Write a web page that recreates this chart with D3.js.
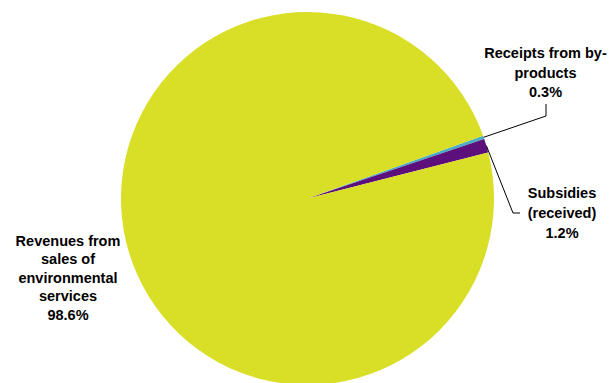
<!DOCTYPE html>
<html><head><meta charset="utf-8">
<script src="https://cdn.jsdelivr.net/npm/d3@7"></script>
<style>body{margin:0;background:#fff}svg{display:block}</style>
</head><body>
<svg id="c" width="611" height="383"></svg>
<script>
const categories = ["Receipts from by-products", "Subsidies (received)", "Revenues from sales of environmental services"];
const values = [0.3, 1.2, 98.6];
const labelLines = [["Receipts from by-", "products", "0.3%"], ["Subsidies", "(received)", "1.2%"], ["Revenues from", "sales of", "environmental", "services", "98.6%"]];
const colors = ["#4bacc6", "#5d0f7c", "#d9de26"];

const svg = d3.select("#c");
const cx = 307.5, cy = 198.5, r = 186.5;
const startDeg = 70.3;
const pie = d3.pie().sort(null).value(d => d)
  .startAngle(startDeg * Math.PI / 180)
  .endAngle((startDeg + 360) * Math.PI / 180);
const arcs = pie(values);
const arc = d3.arc().innerRadius(0).outerRadius(r);
const g = svg.append("g").attr("transform", `translate(${cx},${cy})`);
g.selectAll("path").data(arcs).enter().append("path")
  .attr("d", arc).attr("fill", (d, i) => colors[i]);

const labelPos = [[545.5, 58], [562, 198], [68, 245.5]];
const lineH = [19.5, 20, 18.6];
labelLines.forEach((lines, i) => {
  const t = svg.append("text").attr("text-anchor", "middle")
    .attr("font-family", "Liberation Sans, Arial, sans-serif")
    .attr("font-weight", "bold").attr("font-size", 14.5).attr("fill", "#000");
  lines.forEach((s, j) => {
    t.append("tspan").attr("x", labelPos[i][0]).attr("y", labelPos[i][1] + j * lineH[i]).text(s);
  });
});
function edge(i, frac) {
  const a = arcs[i].startAngle + (arcs[i].endAngle - arcs[i].startAngle) * frac;
  return [cx + r * Math.sin(a), cy - r * Math.cos(a)];
}
const p0 = edge(0, 0.5);
svg.append("polyline").attr("points", [p0, [546, 116], [546, 104]].map(p => p.join(",")).join(" "))
  .attr("fill", "none").attr("stroke", "#000").attr("stroke-width", 1);
const p1 = edge(1, 0.5);
svg.append("polyline").attr("points", [p1, [513, 213], [520, 213]].map(p => p.join(",")).join(" "))
  .attr("fill", "none").attr("stroke", "#000").attr("stroke-width", 1);
</script>
</body></html>
